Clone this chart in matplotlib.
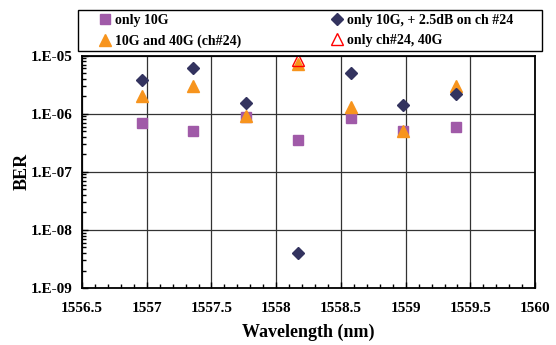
import matplotlib.pyplot as plt
import numpy as np
from matplotlib.patches import Rectangle
from matplotlib.ticker import FuncFormatter, LogLocator, MultipleLocator

plt.rcParams['font.family'] = ['Liberation Serif', 'DejaVu Serif']
plt.rcParams['font.weight'] = 'bold'

# Datos
wavelength = [1556.96, 1557.36, 1557.77, 1558.17, 1558.58, 1558.98, 1559.39]
ber_10g = [6.9e-7, 5.1e-7, 8.6e-7, 3.5e-7, 8.4e-7, 5.1e-7, 5.9e-7]
ber_10g_25db = [3.8e-6, 6.1e-6, 1.5e-6, 4.0e-9, 5.1e-6, 1.4e-6, 2.2e-6]
ber_10g_40g = [2.0e-6, 3.0e-6, 9.3e-7, 7.2e-6, 1.3e-6, 5.1e-7, 3.0e-6]
wl_40g = [1558.17]
ber_40g = [8.5e-6]

fig = plt.figure(figsize=(5.56, 3.45), dpi=100)
ax = fig.add_axes([0.1475, 0.165, 0.815, 0.674])

h1, = ax.plot(wavelength, ber_10g, 's', color='#A05AA8', markersize=7, linestyle='none', label='only 10G')
h3, = ax.plot(wavelength, ber_10g_40g, '^', color='#F7941D', markersize=8.5, linestyle='none', label='10G and 40G (ch#24)')
h2, = ax.plot(wavelength, ber_10g_25db, 'D', color='#33335F', markersize=6.5, linestyle='none', label='only 10G, + 2.5dB on ch #24')
h4, = ax.plot(wl_40g, ber_40g, '^', markerfacecolor='none', markeredgecolor='#FF0000', markersize=8.5, linestyle='none', label='only ch#24, 40G')

ax.set_yscale('log')
ax.set_ylim(1e-9, 1e-5)
ax.set_xlim(1556.5, 1560)
ax.xaxis.set_major_locator(MultipleLocator(0.5))
ax.xaxis.set_minor_locator(MultipleLocator(0.1))
ax.yaxis.set_major_locator(LogLocator(base=10))
ax.yaxis.set_minor_locator(LogLocator(base=10, subs=np.arange(2, 10)))
ax.yaxis.set_minor_formatter(FuncFormatter(lambda v, p: ''))
ax.yaxis.set_major_formatter(FuncFormatter(lambda v, p: '1.E-%02d' % round(-np.log10(v))))
ax.xaxis.set_major_formatter(FuncFormatter(lambda v, p: ('%g' % v)))

ax.tick_params(which='both', direction='in', labelsize=11, length=4, width=1)
ax.tick_params(which='minor', length=3)
ax.tick_params(axis='x', which='both', pad=10)
ax.tick_params(axis='y', which='both', pad=7)
for lab in ax.get_xticklabels() + ax.get_yticklabels():
    lab.set_fontweight('bold')

ax.grid(True, which='major', color='#333333', linewidth=0.9)
for s in ax.spines.values():
    s.set_linewidth(1.3)

ax.set_xlabel('Wavelength (nm)', fontsize=13, fontweight='bold', labelpad=6)
ax.set_ylabel('BER', fontsize=13, fontweight='bold', labelpad=0)

# marco de la leyenda
fig.patches.append(Rectangle((78 / 556, 1 - 51 / 345), 464 / 556, 41 / 345,
                             transform=fig.transFigure, fill=False,
                             edgecolor='black', linewidth=1.0))

leg = fig.legend(handles=[h1, h3, h2, h4], ncol=2, loc='upper left',
                 bbox_to_anchor=(91 / 556, 1 - 8 / 345),
                 frameon=False, fontsize=10, columnspacing=6.35,
                 handletextpad=0.1, borderaxespad=0, labelspacing=0.55,
                 handlelength=1.2)
for t in leg.get_texts():
    t.set_fontweight('bold')

fig.savefig('out.png', dpi=100)
